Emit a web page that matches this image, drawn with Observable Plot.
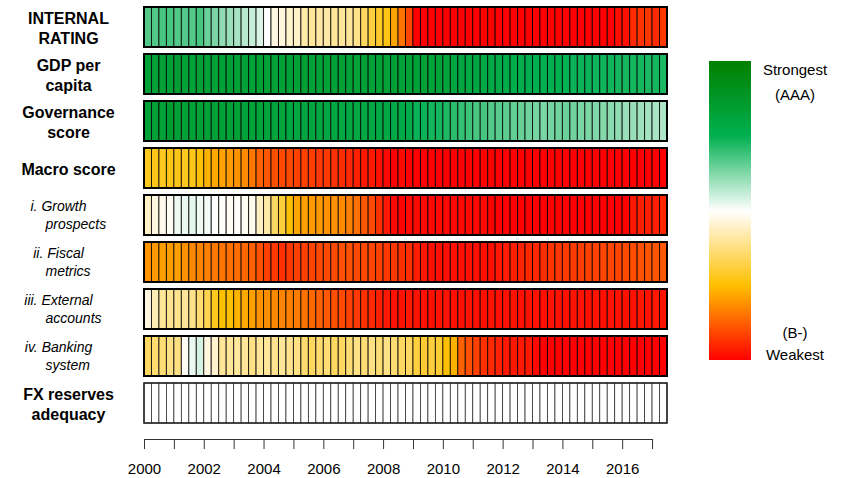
<!DOCTYPE html>
<html><head><meta charset="utf-8">
<script src="https://cdn.jsdelivr.net/npm/d3@7"></script>
<script src="https://cdn.jsdelivr.net/npm/@observablehq/plot@0.6"></script>
<style>
body{margin:0;background:#fff;font-family:"Liberation Sans",Arial,sans-serif;}
#wrap{position:relative;width:844px;height:478px;overflow:hidden;}
#chart{position:absolute;left:0;top:0;}
#legend{position:absolute;left:709px;top:61px;width:42px;height:299px;}
.lt{position:absolute;font-size:15px;line-height:18px;color:#000;width:100px;text-align:center;}
</style></head><body>
<div id="wrap"><div id="chart"></div><div id="legend"></div></div>
<script>
// ---- data ----
const rows = ["INTERNAL RATING","GDP per capita","Governance score","Macro score",
  "i. Growth prospects","ii. Fiscal metrics","iii. External accounts","iv. Banking system","FX reserves adequacy"];
const line1 = ["INTERNAL","GDP per","Governance","Macro score","i. Growth","ii. Fiscal","iii. External","iv. Banking","FX reserves"];
const line2 = ["RATING","capita","score","","prospects","metrics","accounts","system","adequacy"];
const isSub = [false,false,false,false,true,true,true,true,false];
const years = [2000,2001,2002,2003,2004,2005,2006,2007,2008,2009,2010,2011,2012,2013,2014,2015,2016,2017];
const quarters = d3.range(70).map(i => 2000 + i * 0.25);
// score: 0 = weakest (B-), 1 = strongest (AAA)
const internalRating = [.67,.67,.68,.68,.67,.67,.67,.68,.645,.63,
  .61,.60,.585,.57,.555,.535,.50,.47,.465,.45,
  .445,.415,.40,.41,.41,.40,.40,.40,.385,.345,
  .31,.29,.27,.215,.15,.09,0,0,0,0,
  0,0,0,0,0,0,0,0,0,0,
  0,0,0,0,0,0,0,0,0,0,
  0,0,0,.02,.02,.055,.065,.07,.055,.07];
const gdpPerCapita = [.83,.83,.835,.83,.84,.83,.83,.835,.83,.83,
  .83,.835,.83,.83,.83,.835,.83,.83,.83,.83,
  .83,.835,.83,.83,.83,.83,.835,.83,.83,.83,
  .83,.83,.83,.835,.83,.83,.825,.83,.82,.82,
  .81,.80,.80,.79,.79,.785,.78,.78,.77,.765,
  .76,.76,.755,.755,.75,.75,.745,.74,.74,.74,
  .735,.735,.735,.73,.73,.73,.73,.725,.73,.725];
const governance = [.83,.83,.83,.85,.83,.83,.83,.83,.83,.83,
  .83,.83,.83,.82,.82,.82,.81,.81,.81,.80,
  .80,.80,.80,.80,.795,.79,.79,.79,.79,.79,
  .79,.785,.785,.78,.78,.77,.74,.74,.73,.73,
  .72,.71,.70,.69,.68,.68,.67,.665,.66,.655,
  .65,.64,.635,.63,.635,.64,.645,.64,.63,.63,
  .625,.62,.615,.61,.60,.60,.595,.59,.585,.58];
const macro = [.28,.275,.28,.27,.27,.28,.275,.255,.23,.22,
  .21,.20,.19,.18,.156,.125,.115,.104,.094,.094,
  .085,.085,.08,.073,.073,.063,.057,.052,.042,.031,
  .031,.021,.01,0,.01,0,0,0,0,0,
  0,0,0,0,0,0,0,0,0,0,
  0,0,0,0,0,0,0,0,0,0,
  0,0,0,0,0,0,0,0,0,0];
const growth = [.446,.47,.48,.49,.515,.52,.525,.515,.51,.50,
  .495,.49,.495,.487,.48,.44,.415,.345,.31,.25,
  .215,.21,.20,.20,.19,.19,.18,.167,.146,.115,
  .094,.063,.03,.01,0,.01,.01,.01,.01,.01,
  .01,.01,.01,.01,.01,.01,0,0,0,0,
  0,0,0,0,0,0,0,0,0,0,
  0,0,0,0,0,.03,.04,.04,.04,.05];
const fiscal = [.193,.198,.208,.203,.208,.1875,.177,.172,.167,.156,
  .151,.146,.141,.135,.125,.104,.083,.073,.0625,.073,
  .083,.083,.089,.094,.094,.099,.104,.104,.094,.094,
  .089,.083,.073,.073,.0625,.06,.04,.03,.02,.02,
  .02,.02,.02,.02,.02,.02,.02,.03,.035,.04,
  .045,.05,.05,.06,.065,.07,.075,.075,.08,.085,
  .085,.09,.09,.09,.095,.10,.105,.11,.11,.115];
const external = [.47,.43,.40,.39,.39,.40,.385,.36,.33,.28,
  .25,.25,.235,.22,.21,.19,.185,.18,.172,.167,
  .161,.151,.135,.125,.115,.104,.094,.083,.073,.0625,
  .052,.042,.031,.021,.021,.03,.025,.02,.02,.025,
  .025,.02,.02,.025,.02,.02,.025,.02,.02,.025,
  .02,.025,.025,.02,.025,.025,.02,.025,.025,.02,
  .025,.02,.025,.025,.02,.025,.03,.025,.03,.025];
const banking = [.345,.36,.365,.38,.38,.49,.52,.54,.47,.45,
  .40,.40,.405,.40,.38,.40,.40,.39,.40,.39,
  .38,.36,.345,.36,.365,.345,.345,.365,.38,.365,
  .38,.365,.38,.365,.345,.345,.31,.30,.31,.30,
  .25,.23,.125,.104,.083,.0625,.052,.042,.031,.031,
  .031,.031,.01,0,0,0,0,0,0,0,
  0,0,0,0,0,0,0,0,0,0];
const fxReserves = quarters.map(() => null); // no data shown
const colorStops = [0, 0.25, 0.5, 0.75, 1];
const colorRange = ["#FF0000", "#FFC000", "#FFFFFF", "#00B050", "#008000"];

// ---- build tables ----
const series = [internalRating, gdpPerCapita, governance, macro, growth, fiscal, external, banking];
const cells = [];
series.forEach((vals, r) => vals.forEach((v, i) => cells.push({row: rows[r], t: quarters[i], t2: quarters[i] + 0.25, v})));
const fxCells = fxReserves.map((v, i) => ({row: rows[8], t: quarters[i], t2: quarters[i] + 0.25, v}));
const labels = rows.map((r, i) => ({row: r, l1: line1[i], l2: line2[i], sub: isSub[i]}));
const font = '"Liberation Sans", Arial, sans-serif';

const chart = Plot.plot({
  width: 844, height: 478,
  marginLeft: 144, marginRight: 177, marginTop: 3, marginBottom: 51,
  x: {type: "linear", domain: [2000, 2017.5]},
  y: {type: "band", domain: rows, paddingInner: 0.15, paddingOuter: 0.075, axis: null},
  color: {type: "linear", domain: colorStops, range: colorRange, clamp: true},
  style: {fontFamily: font, fontSize: "15px", color: "#000", background: "white"},
  marks: [
    Plot.barX(cells, {x1: "t", x2: "t2", y: "row", fill: "v", stroke: "#000", strokeWidth: 1, strokeOpacity: 0.8}),
    Plot.barX(fxCells, {x1: "t", x2: "t2", y: "row", fill: "white", stroke: "#333", strokeWidth: 0.8}),
    Plot.barX(rows.slice(0, 8), {x1: 2000, x2: 2017.5, y: d => d, fill: "none", stroke: "#000", strokeWidth: 2}),
    Plot.barX(rows.slice(8), {x1: 2000, x2: 2017.5, y: d => d, fill: "none", stroke: "#222", strokeWidth: 1.5}),
    Plot.axisX({ticks: years, tickFormat: d => d % 2 === 0 ? String(d) : "", tickSize: 10, tickPadding: 14, dy: 12, fontSize: 15, stroke: "#333"}),
    Plot.ruleY([rows[8]], {y: d => d, x1: 2000, x2: 2017, dy: 36, stroke: "#333"}),
    // bold labels
    Plot.text(labels.filter(d => !d.sub), {y: "row", text: d => d.l2 ? d.l1 + "\n" + d.l2 : d.l1, frameAnchor: "left", dx: -76, textAnchor: "middle", lineHeight: 1.25, fontWeight: "bold", fontSize: 16, fill: "#000"}),
    // italic sub-labels
    Plot.text(labels.filter(d => d.sub), {y: "row", text: "l1", frameAnchor: "left", dx: -86, dy: -9, textAnchor: "middle", fontStyle: "italic", fontSize: 14, fill: "#000"}),
    Plot.text(labels.filter(d => d.sub), {y: "row", text: "l2", frameAnchor: "left", dx: -99, dy: 9, textAnchor: "start", fontStyle: "italic", fontSize: 14, fill: "#000"})
  ]
});
document.getElementById("chart").appendChild(chart);

// ---- legend (color ramp) ----
const lg = document.getElementById("legend");
const stopsDesc = colorStops.map((s, i) => `${colorRange[i]} ${(1 - s) * 100}%`).reverse();
lg.style.background = `linear-gradient(to bottom, ${stopsDesc.join(", ")})`;
const wrap = document.getElementById("wrap");
const legendTexts = [["Strongest", 70], ["(AAA)", 95], ["(B-)", 333], ["Weakest", 355]];
legendTexts.forEach(([t, cy]) => {
  const d = document.createElement("div");
  d.className = "lt"; d.textContent = t;
  d.style.left = "745px"; d.style.top = (cy - 9) + "px";
  wrap.appendChild(d);
});
</script>
</body></html>
